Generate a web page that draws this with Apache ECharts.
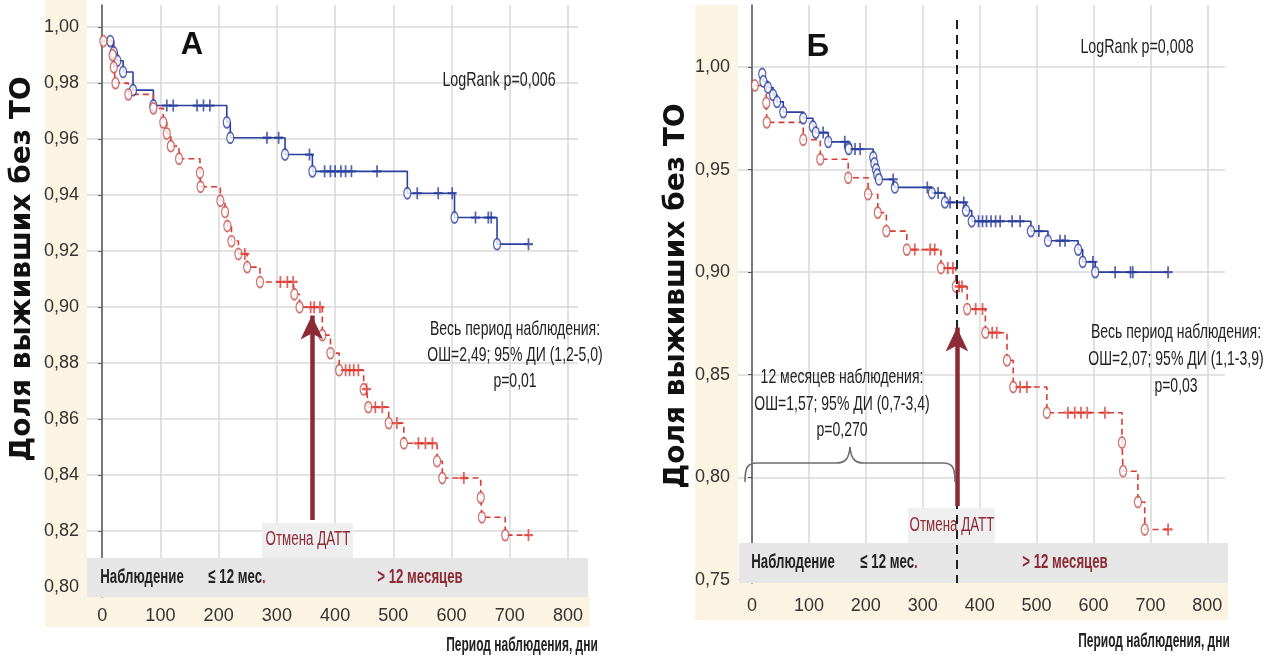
<!DOCTYPE html>
<html><head><meta charset="utf-8">
<script src="https://cdn.jsdelivr.net/npm/echarts@6/dist/echarts.min.js"></script>
<style>html,body{margin:0;padding:0;background:#fff}#c{width:1267px;height:658px}</style>
</head><body><div id="c"></div>
<script>
// ---------- DATA ----------
const xTicks = [0, 100, 200, 300, 400, 500, 600, 700, 800];
const yTicksA = [0.80, 0.82, 0.84, 0.86, 0.88, 0.90, 0.92, 0.94, 0.96, 0.98, 1.00];
const yTicksB = [0.75, 0.80, 0.85, 0.90, 0.95, 1.00];

// Panel A (left): events [day, survival], censored days
const blueEventsA = [[14,0.995],[20,0.991],[26,0.988],[36,0.984],[53,0.9775],[88,0.972],[214,0.966],[220,0.9605],[314,0.9545],[361,0.9485],[524,0.9407],[605,0.932],[678,0.9225]];
const blueCensorA = [111,122,163,174,185,283,303,356,382,392,400,410,418,428,472,541,577,601,641,663,668,732];
const redEventsA = [[2,0.995],[18,0.990],[20,0.9857],[23,0.980],[45,0.976],[88,0.971],[105,0.966],[111,0.962],[118,0.9575],[132,0.953],[168,0.948],[169,0.943],[203,0.938],[211,0.934],[215,0.929],[222,0.9236],[234,0.919],[249,0.9143],[271,0.909],[330,0.9046],[339,0.900],[378,0.890],[392,0.8836],[407,0.8775],[449,0.8707],[457,0.8643],[492,0.8586],[518,0.8514],[575,0.845],[584,0.839],[650,0.832],[652,0.825],[692,0.8186]];
const redCensorA = [245,306,318,328,358,364,374,418,425,432,440,454,469,481,506,543,555,567,621,732];

// Panel Б (right)
const blueEventsB = [[18,0.9966],[20,0.993],[28,0.990],[37,0.9864],[44,0.983],[55,0.978],[90,0.975],[107,0.971],[112,0.968],[134,0.9635],[169,0.961],[170,0.960],[213,0.956],[215,0.953],[218,0.950],[220,0.9475],[223,0.9452],[251,0.9413],[316,0.9386],[339,0.9340],[376,0.930],[386,0.9248],[490,0.920],[520,0.9153],[573,0.911],[581,0.905],[603,0.900]];
const blueCensorB = [125,163,181,190,248,308,327,348,372,398,405,412,420,428,436,457,471,504,541,550,599,638,665,669,731];
const redEventsB = [[5,0.991],[25,0.9825],[26,0.973],[90,0.9645],[120,0.955],[169,0.946],[204,0.938],[221,0.929],[236,0.920],[272,0.911],[332,0.902],[358,0.893],[378,0.882],[410,0.8705],[448,0.857],[459,0.844],[518,0.8315],[650,0.817],[652,0.803],[678,0.788],[690,0.7746]];
const redCensorB = [286,313,321,344,353,364,369,393,405,422,430,471,483,555,567,578,589,620,731];

const daptStopDay = 360;   // Отмена ДАТТ

// ---------- HELPERS ----------
const SANS = "'Liberation Sans',Arial,sans-serif";
const BLUE = '#2b3f9e', RED = '#dc3b33', REDC = '#c4514c', DARKRED = '#8c2a35';
function levelAt(events, d) { let v = events[0][1]; for (const [t, s] of events) { if (t <= d) v = s; } return v; }
function censorPts(events, days) { return days.map(d => [d, levelAt(events, d)]); }
function linePts(events, days) { return events.concat(censorPts(events, days)).sort((a, b) => a[0] - b[0]); }
const PLUS = 'path://M0,6L12,6M6,0L6,12';
function curve(idx, events, cens, color, circleColor, dashed) {
  return [
    { type: 'line', xAxisIndex: idx, yAxisIndex: idx, step: 'end', showSymbol: false, z: 2, silent: true,
      data: linePts(events, cens), lineStyle: { color: color, width: 1.6, type: dashed ? [6, 4] : 'solid' } },
    { type: 'scatter', xAxisIndex: idx, yAxisIndex: idx, z: 3, silent: true, symbol: 'circle', symbolSize: [7, 11],
      data: events, itemStyle: { color: '#fff', borderColor: circleColor, borderWidth: 1.5 } },
    { type: 'scatter', xAxisIndex: idx, yAxisIndex: idx, z: 3, silent: true, symbol: PLUS, symbolSize: [9, 12],
      data: censorPts(events, cens), itemStyle: { color: 'transparent', borderColor: color, borderWidth: 2 } }
  ];
}
function fmt(v) { return v.toFixed(2).replace('.', ','); }
function xAx(idx, min, max, margin) {
  return { gridIndex: idx, type: 'value', min: min, max: max,
    axisLine: { show: false }, axisTick: { show: false, customValues: xTicks },
    axisLabel: { customValues: xTicks, fontSize: 18, fontFamily: SANS, color: '#333', margin: margin },
    splitLine: { show: true, lineStyle: { color: '#d8d8d8', width: 1.5 } } };
}
function yAx(idx, min, max, ticks) {
  return { gridIndex: idx, type: 'value', min: min, max: max,
    axisLine: { show: true, lineStyle: { color: '#555', width: 1.5 } },
    axisTick: { show: true, length: 4, customValues: ticks, lineStyle: { color: '#555' } },
    axisLabel: { customValues: ticks, formatter: fmt, fontSize: 18, fontFamily: SANS, color: '#333', margin: 8 },
    splitLine: { show: true, lineStyle: { color: '#d8d8d8', width: 1.5 } } };
}
// condensed text: drawn at (x,y) and squeezed horizontally
function txt(x, y, text, font, fill, sx, extra) {
  return Object.assign({ type: 'text', z: 10, x: x, y: y, scaleX: sx || 1, scaleY: 1,
    style: { x: 0, y: 0, text: text, font: font, fill: fill || '#222',
      align: 'center', verticalAlign: 'middle', textAlign: 'center', textVerticalAlign: 'middle' } }, extra || {});
}
function rtxt(x, y, text, font, sx) {
  return { type: 'text', z: 10, x: x, y: y, scaleX: sx, scaleY: 1,
    style: { x: 0, y: 0, text: text, font: font, fill: '#222', align: 'center', verticalAlign: 'middle',
      rich: { r: { fill: '#c0272d', font: font } } } };
}
function rect(x, y, w, h, fill, z) { return { type: 'rect', z: z, shape: { x: x, y: y, width: w, height: h }, style: { fill: fill } }; }
const BRACE = { stroke: '#6e6e6e', lineWidth: 1.6, fill: 'none' };
function bez(x1, y1, c1x, c1y, c2x, c2y, x2, y2) {
  return { type: 'bezierCurve', z: 6, shape: { x1: x1, y1: y1, cpx1: c1x, cpy1: c1y, cpx2: c2x, cpy2: c2y, x2: x2, y2: y2 }, style: BRACE };
}
function seg(x1, y1, x2, y2) { return { type: 'line', z: 6, shape: { x1: x1, y1: y1, x2: x2, y2: y2 }, style: BRACE }; }

const BEIGE = '#fbf4e3', BAND = '#e6e6e6', BOX = '#efefef';
const CN = 0.667;                        // condensing factor for annotation text
const F_REG = '21px ' + SANS, F_BOLD = 'bold 21px ' + SANS, F_SMALL = '20px ' + SANS;
const CB = 0.63;

const option = {
  animation: false,
  backgroundColor: '#fff',
  grid: [
    { left: 87, top: 5, width: 491, height: 592 },
    { left: 738, top: 5, width: 487, height: 578 }
  ],
  xAxis: [ xAx(0, -26, 817, 10), xAx(1, -24.6, 831, 14) ],
  yAxis: [ yAx(0, 0.7965, 1.0079, yTicksA), yAx(1, 0.7485, 1.0302, yTicksB) ],
  series: [].concat(
    curve(0, blueEventsA, blueCensorA, BLUE, BLUE, false),
    curve(0, redEventsA, redCensorA, RED, REDC, true),
    curve(1, blueEventsB, blueCensorB, BLUE, BLUE, false),
    curve(1, redEventsB, redCensorB, RED, REDC, true),
    [
      { type: 'line', xAxisIndex: 1, yAxisIndex: 1, data: [], z: 2, silent: true,
        markLine: { silent: true, symbol: ['none', 'none'], label: { show: false },
          lineStyle: { color: '#222', width: 2, type: [9, 6] },
          data: [[{ coord: [daptStopDay, 1.0229] }, { coord: [daptStopDay, 0.7485] }]] } },
      { type: 'line', xAxisIndex: 0, yAxisIndex: 0, data: [], z: 8, silent: true,
        markLine: { silent: true, symbol: ['none', 'arrow'], symbolSize: [17, 24], label: { show: false },
          lineStyle: { color: DARKRED, width: 4.5, type: 'solid' },
          data: [[{ coord: [daptStopDay, 0.824] }, { coord: [daptStopDay, 0.897] }]] } },
      { type: 'line', xAxisIndex: 1, yAxisIndex: 1, data: [], z: 8, silent: true,
        markLine: { silent: true, symbol: ['none', 'arrow'], symbolSize: [17, 24], label: { show: false },
          lineStyle: { color: DARKRED, width: 4.5, type: 'solid' },
          data: [[{ coord: [daptStopDay, 0.786] }, { coord: [daptStopDay, 0.873] }]] } }
    ]
  ),
  graphic: { elements: [
    // beige backgrounds
    rect(45, 0, 42, 597, BEIGE, -1), rect(45, 597, 545, 30, BEIGE, -1),
    rect(695, 5, 43, 578, BEIGE, -1), rect(695, 583, 533, 37, BEIGE, -1),
    // bottom bands
    rect(87, 558, 501, 39, BAND, 1), rect(262, 523, 91, 35, BOX, 5),
    rect(739, 543, 489, 40, BAND, 1), rect(908, 508, 87, 35, BOX, 5),
    // brace
    bez(745, 482, 745, 468, 747, 463, 757, 463), seg(757, 463, 836, 463),
    bez(836, 463, 846, 463, 849, 458, 850, 447), bez(850, 447, 851, 458, 854, 463, 864, 463),
    seg(864, 463, 943, 463), bez(943, 463, 953, 463, 955, 468, 955, 482),
    // panel letters
    txt(192, 45, 'А', "bold 31px " + SANS, '#111'),
    txt(818, 47, 'Б', "bold 31px " + SANS, '#111'),
    // y titles
    txt(23, 269, 'Доля выживших без ТО', "bold 28px 'DejaVu Sans',sans-serif", '#111', 1, { rotation: Math.PI / 2 }),
    txt(677, 296, 'Доля выживших без ТО', "bold 28px 'DejaVu Sans',sans-serif", '#111', 1, { rotation: Math.PI / 2 }),
    // x titles
    txt(522, 645, 'Период наблюдения, дни', 'bold 20px ' + SANS, '#222', 0.6),
    txt(1154, 641, 'Период наблюдения, дни', 'bold 20px ' + SANS, '#222', 0.6),
    // stats A
    txt(499, 80, 'LogRank p=0,006', F_REG, '#222', 0.68),
    txt(515, 329, 'Весь период наблюдения:', F_REG, '#222', CN),
    txt(515, 355, 'ОШ=2,49; 95% ДИ (1,2-5,0)', F_REG, '#222', CN),
    txt(515, 381, 'p=0,01', F_REG, '#222', CN),
    // stats B
    txt(1137, 47, 'LogRank p=0,008', F_REG, '#222', 0.68),
    txt(1176, 332, 'Весь период наблюдения:', F_REG, '#222', CN),
    txt(1176, 359, 'ОШ=2,07; 95% ДИ (1,1-3,9)', F_REG, '#222', CN),
    txt(1176, 386, 'p=0,03', F_REG, '#222', CN),
    txt(842, 377, '12 месяцев наблюдения:', F_REG, '#222', CN),
    txt(842, 404, 'ОШ=1,57; 95% ДИ (0,7-3,4)', F_REG, '#222', CN),
    txt(842, 430, 'p=0,270', F_REG, '#222', CN),
    // band labels A
    txt(142, 577, 'Наблюдение', F_BOLD, '#222', CB),
    rtxt(237, 577, '≤ 12 мес{r|.}', F_BOLD, CB),
    txt(420, 577, '> 12 месяцев', F_BOLD, DARKRED, CB),
    txt(308, 539, 'Отмена ДАТТ', F_SMALL, DARKRED, CN),
    // band labels B
    txt(793, 562, 'Наблюдение', F_BOLD, '#222', CB),
    rtxt(889, 562, '≤ 12 мес{r|.}', F_BOLD, CB),
    txt(1065, 562, '> 12 месяцев', F_BOLD, DARKRED, CB),
    txt(952, 525, 'Отмена ДАТТ', F_SMALL, DARKRED, CN)
  ] }
};
const chart = echarts.init(document.getElementById('c'), null, { renderer: 'canvas' });
chart.setOption(option);
</script></body></html>
